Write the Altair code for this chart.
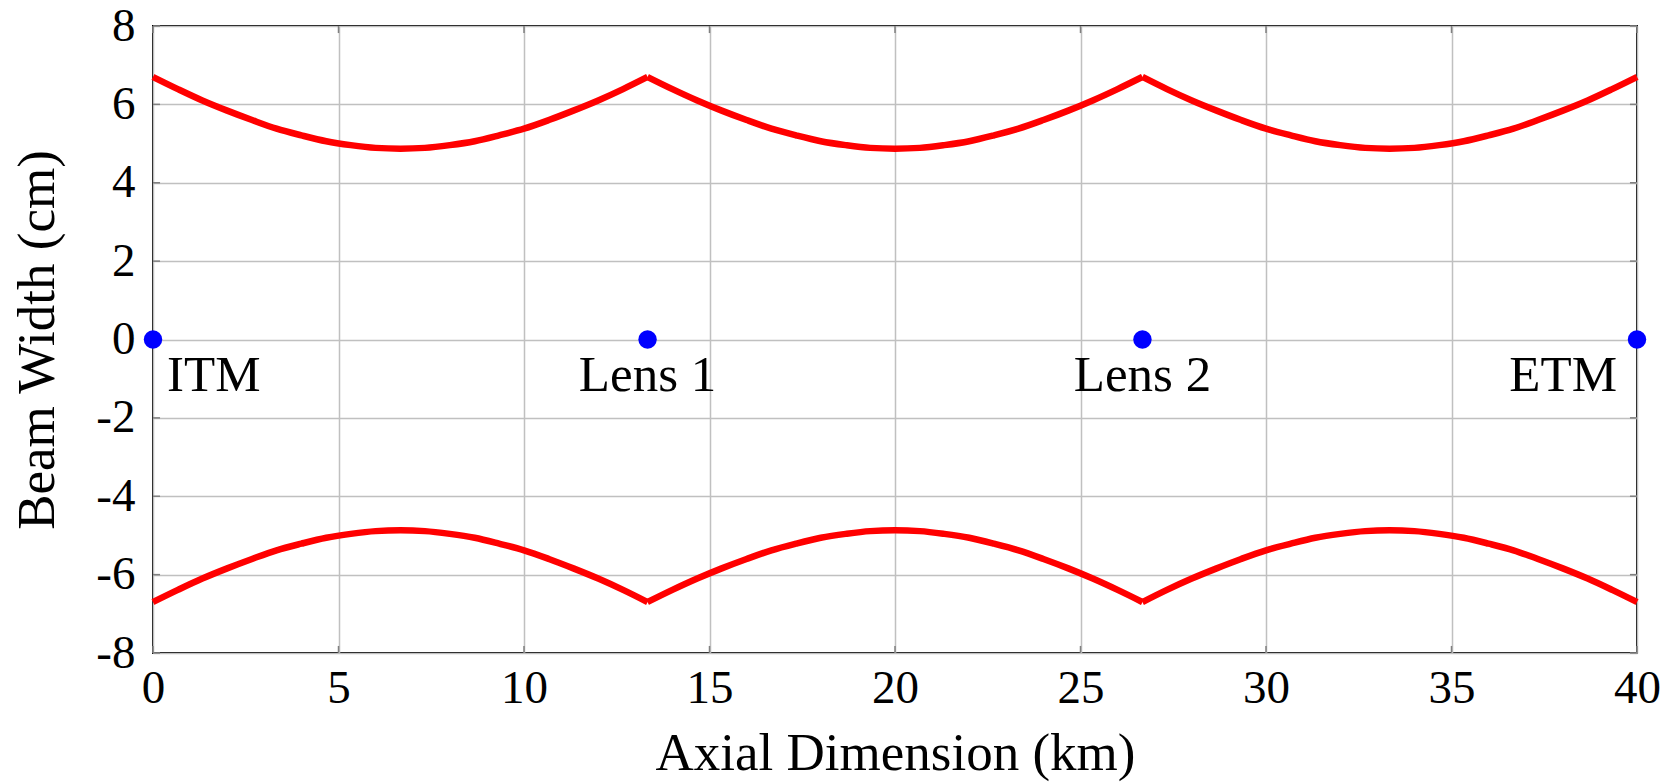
import altair as alt
import pandas as pd

FONT = "Liberation Serif"

z_km = [0, 0.67, 1.33, 2.0, 2.67, 3.33, 4.0, 4.67, 5.33, 6.0, 6.67, 7.33, 8.0, 8.67, 9.33,
        10.0, 10.67, 11.33, 12.0, 12.67, 13.33, 14.0, 14.67, 15.33, 16.0, 16.67, 17.33, 18.0,
        18.67, 19.33, 20.0, 20.67, 21.33, 22.0, 22.67, 23.33, 24.0, 24.67, 25.33, 26.0, 26.67,
        27.33, 28.0, 28.67, 29.33, 30.0, 30.67, 31.33, 32.0, 32.67, 33.33, 34.0, 34.67, 35.33,
        36.0, 36.67, 37.33, 38.0, 38.67, 39.33, 40.0]

# Upper beam envelope (cm)
upper_cm = [6.70, 6.39, 6.10, 5.84, 5.60, 5.38, 5.21, 5.06, 4.96, 4.89, 4.87, 4.89, 4.96, 5.06,
            5.21, 5.38, 5.60, 5.84, 6.10, 6.39, 6.70,
            6.39, 6.10, 5.84, 5.60, 5.38, 5.21, 5.06, 4.96, 4.89, 4.87, 4.89, 4.96, 5.06,
            5.21, 5.38, 5.60, 5.84, 6.10, 6.39, 6.70,
            6.39, 6.10, 5.84, 5.60, 5.38, 5.21, 5.06, 4.96, 4.89, 4.87, 4.89, 4.96, 5.06,
            5.21, 5.38, 5.60, 5.84, 6.10, 6.39, 6.70]

# Lower beam envelope (cm)
lower_cm = [-6.70, -6.39, -6.10, -5.84, -5.60, -5.38, -5.21, -5.06, -4.96, -4.89, -4.87, -4.89,
            -4.96, -5.06, -5.21, -5.38, -5.60, -5.84, -6.10, -6.39, -6.70,
            -6.39, -6.10, -5.84, -5.60, -5.38, -5.21, -5.06, -4.96, -4.89, -4.87, -4.89,
            -4.96, -5.06, -5.21, -5.38, -5.60, -5.84, -6.10, -6.39, -6.70,
            -6.39, -6.10, -5.84, -5.60, -5.38, -5.21, -5.06, -4.96, -4.89, -4.87, -4.89,
            -4.96, -5.06, -5.21, -5.38, -5.60, -5.84, -6.10, -6.39, -6.70]

# Optics (index into z_km where each cavity segment ends)
optic_z = [0, 13.33, 26.67, 40]
optic_names = ["ITM", "Lens 1", "Lens 2", "ETM"]
segment_bounds = [0, 20, 40, 60]

x_ticks = [0, 5, 10, 15, 20, 25, 30, 35, 40]
y_ticks = [-8, -6, -4, -2, 0, 2, 4, 6, 8]

X_MIN, X_MAX = 0, 40
Y_MIN, Y_MAX = -8, 8
TICK_X = 0.19   # inward tick length in km units
TICK_Y = 0.18   # inward tick length in cm units

rows = []
for s in range(len(segment_bounds) - 1):
    for i in range(segment_bounds[s], segment_bounds[s + 1] + 1):
        rows.append({"z": z_km[i], "w": upper_cm[i], "edge": "upper", "seg": s})
        rows.append({"z": z_km[i], "w": lower_cm[i], "edge": "lower", "seg": s})
beam = pd.DataFrame(rows)
beam["key"] = beam["edge"] + beam["seg"].astype(str)

optics = pd.DataFrame({"z": optic_z, "w": [0] * len(optic_z), "name": optic_names})

xt = pd.DataFrame({
    "z": x_ticks + x_ticks,
    "w": [Y_MIN] * len(x_ticks) + [Y_MAX] * len(x_ticks),
    "w2": [Y_MIN + TICK_Y] * len(x_ticks) + [Y_MAX - TICK_Y] * len(x_ticks),
})
yt = pd.DataFrame({
    "w": y_ticks + y_ticks,
    "z": [X_MIN] * len(y_ticks) + [X_MAX] * len(y_ticks),
    "z2": [X_MIN + TICK_X] * len(y_ticks) + [X_MAX - TICK_X] * len(y_ticks),
})

xscale = alt.Scale(domain=[X_MIN, X_MAX], nice=False, zero=False)
yscale = alt.Scale(domain=[Y_MIN, Y_MAX], nice=False, zero=False)

xaxis = alt.Axis(
    title="Axial Dimension (km)", values=x_ticks, grid=True, gridColor="#c0c0c0",
    gridWidth=1.5, domain=False, ticks=False, tickSize=0, labelPadding=12,
    labelFont=FONT, labelFontSize=47, labelColor="black", labelFlush=False,
    labelOverlap=False, titleFont=FONT, titleFontSize=53, titleFontWeight="normal",
    titleColor="black", titlePadding=16,
)
yaxis = alt.Axis(
    title="Beam Width (cm)", values=y_ticks, grid=True, gridColor="#c0c0c0",
    gridWidth=1.5, domain=False, ticks=False, tickSize=0, labelPadding=18,
    labelFont=FONT, labelFontSize=47, labelColor="black", labelFlush=False,
    labelOverlap=False,
    labelExpr="datum.value < 0 ? '-' + abs(datum.value) : '' + datum.value",
    titleFont=FONT, titleFontSize=53, titleFontWeight="normal", titleColor="black",
    titlePadding=31,
)

base_lines = alt.Chart(beam).mark_line(
    color="#ff0000", strokeWidth=6.5, interpolate="monotone", strokeJoin="miter"
).encode(
    x=alt.X("z:Q", scale=xscale, axis=xaxis),
    y=alt.Y("w:Q", scale=yscale, axis=yaxis),
    detail="key:N",
)

xticks_layer = alt.Chart(xt).mark_rule(color="#808080", strokeWidth=1.5).encode(
    x=alt.X("z:Q", scale=xscale), y=alt.Y("w:Q", scale=yscale), y2="w2:Q"
)
yticks_layer = alt.Chart(yt).mark_rule(color="#808080", strokeWidth=1.5).encode(
    x=alt.X("z:Q", scale=xscale), x2="z2:Q", y=alt.Y("w:Q", scale=yscale)
)

points = alt.Chart(optics).mark_circle(size=340, color="#0000ff", opacity=1).encode(
    x=alt.X("z:Q", scale=xscale), y=alt.Y("w:Q", scale=yscale)
)

def label_layer(names, align, dx):
    return alt.Chart(optics).transform_filter(
        alt.FieldOneOfPredicate(field="name", oneOf=names)
    ).mark_text(
        font=FONT, fontSize=51, align=align, baseline="alphabetic", dx=dx, dy=51,
        color="black",
    ).encode(
        x=alt.X("z:Q", scale=xscale), y=alt.Y("w:Q", scale=yscale), text="name:N"
    )

labels_left = label_layer(["ITM"], "left", 14)
labels_mid = label_layer(["Lens 1", "Lens 2"], "center", 0)
labels_right = label_layer(["ETM"], "right", -20)

chart = alt.layer(
    xticks_layer, yticks_layer, base_lines, points, labels_left, labels_mid, labels_right
).properties(
    width=1484, height=627,
    autosize=alt.AutoSizeParams(type="none"),
    padding={"left": 145, "top": 18, "right": 30, "bottom": 130},
    background="white",
).configure_view(stroke="black", strokeWidth=2)

chart.save("out.html", embed_options={"renderer": "svg", "actions": False})
